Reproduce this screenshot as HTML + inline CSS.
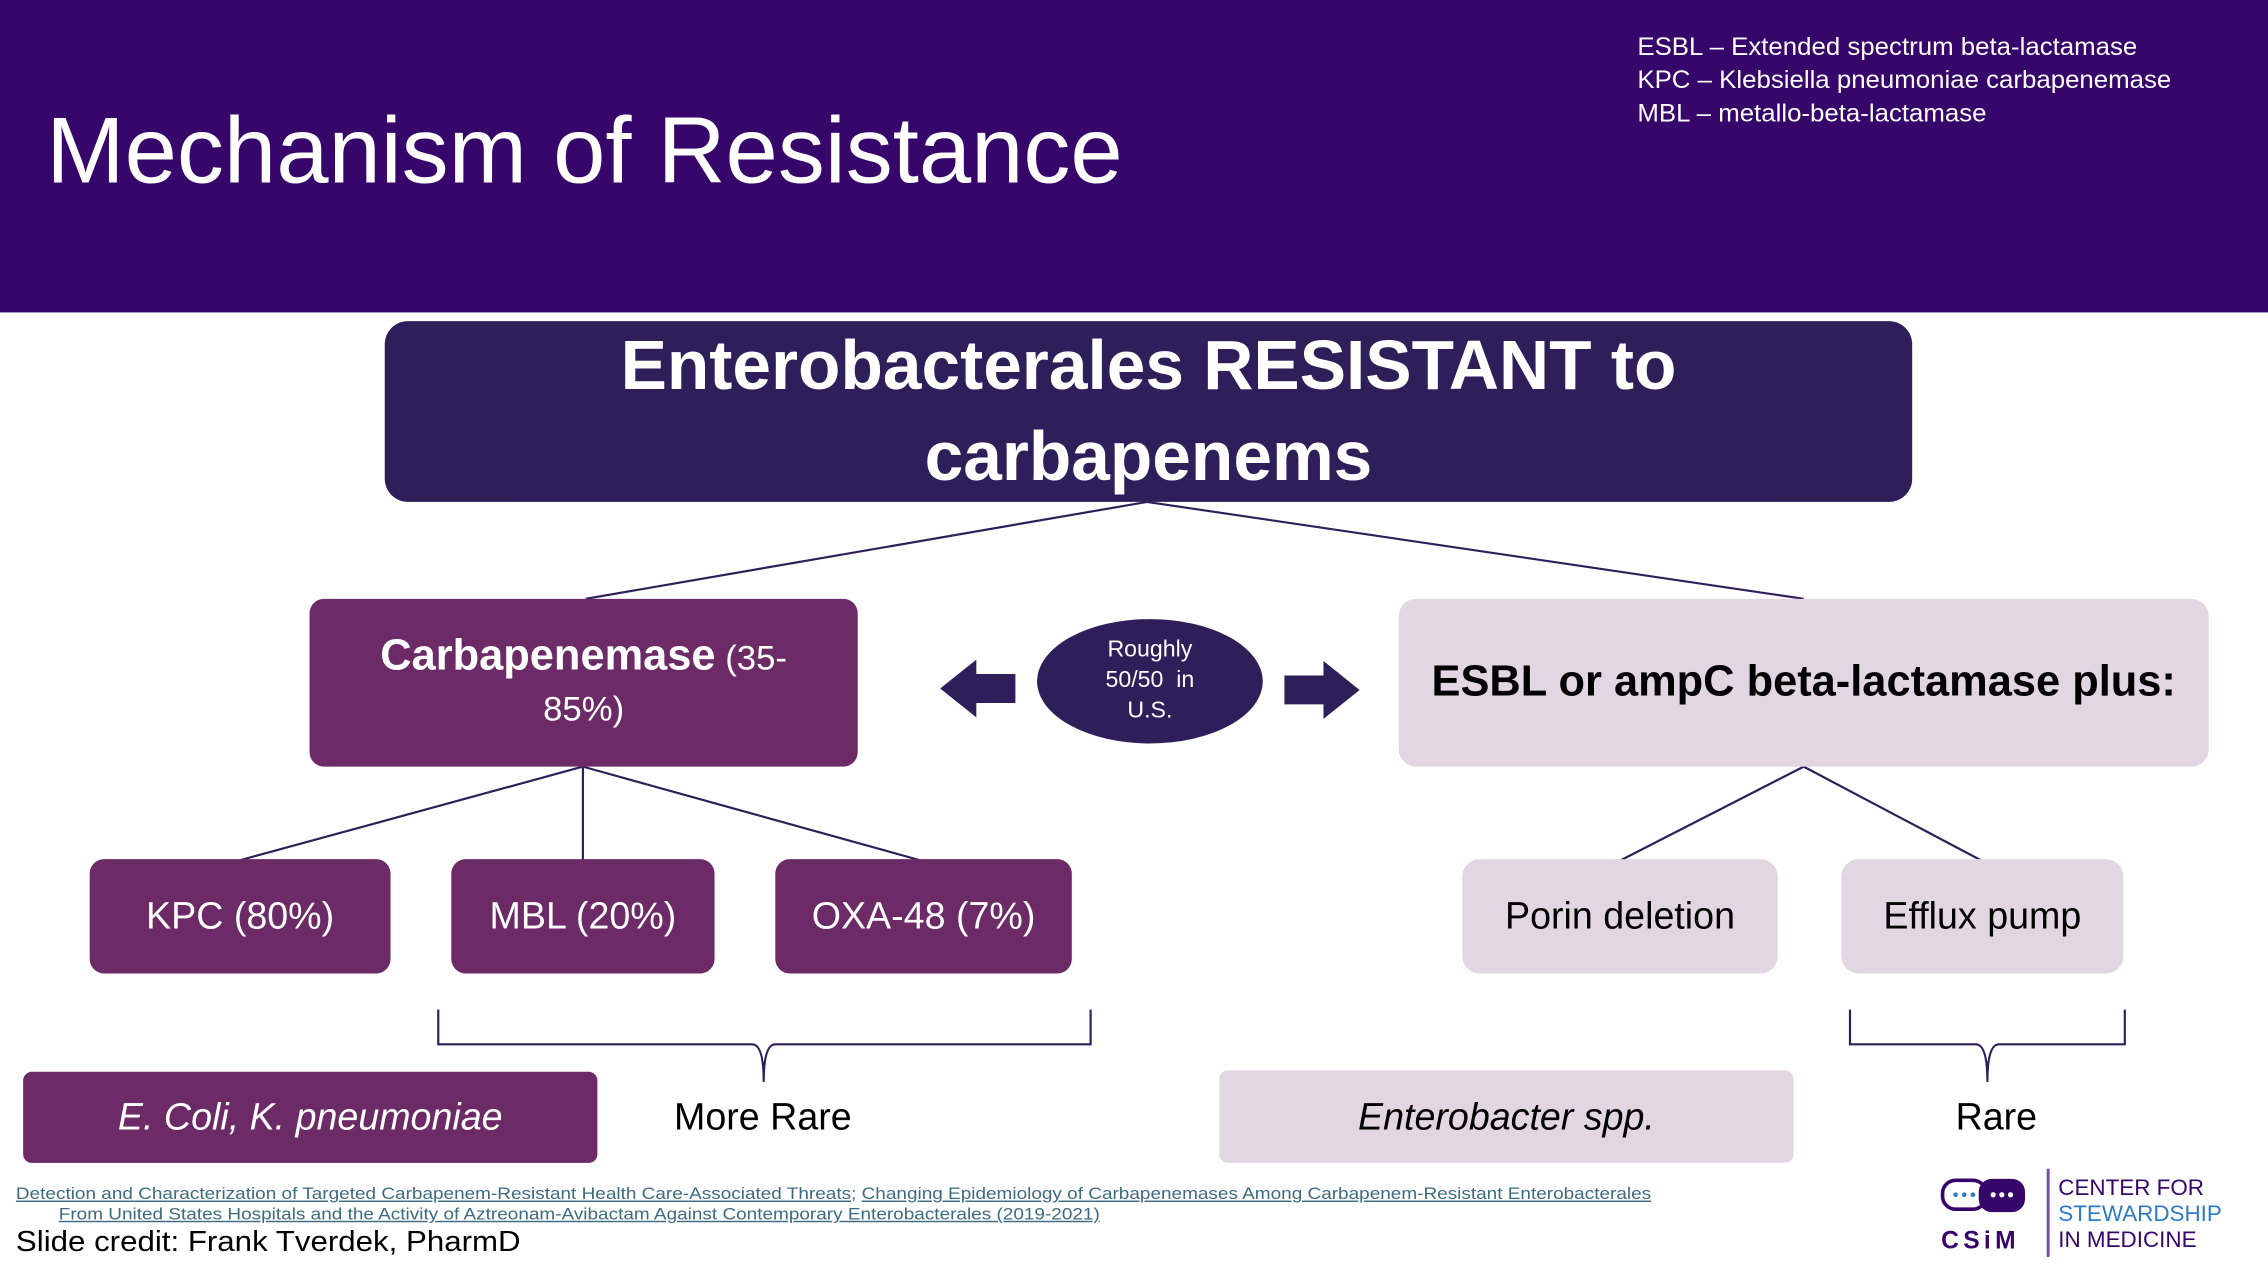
<!DOCTYPE html>
<html><head><meta charset="utf-8"><style>
html,body{margin:0;padding:0;background:#fff;overflow:hidden;width:2268px;height:1270px}
#s{position:absolute;left:0;top:0;width:1568px;height:878px;transform:scale(1.44643);transform-origin:0 0;font-family:"Liberation Sans",sans-serif}
.b{position:absolute;display:flex;align-items:center;justify-content:center;text-align:center;box-sizing:border-box}
.d{background:#6c2a67;color:#fff;border-radius:10px}
.l{background:#e3d6e3;color:#000;border-radius:12px}
.t{position:absolute;white-space:nowrap}
</style></head><body><div id="s">
<div style="position:absolute;left:0;top:0;width:1568px;height:216px;background:#36066a"></div>
<div class="t" style="left:32px;top:66px;font-size:65px;color:#fff">Mechanism of Resistance</div>
<div class="t" style="left:1132px;top:21px;font-size:17px;color:#fff;line-height:23px;transform:scaleX(1.05);transform-origin:0 0">ESBL – Extended spectrum beta-lactamase<br>KPC – Klebsiella pneumoniae carbapenemase<br>MBL – metallo-beta-lactamase</div>
<svg style="position:absolute;left:0;top:0" width="1568" height="878">
<g stroke="#2e1f5a" stroke-width="1.5" fill="none">
<path d="M793 347 L405 414 M793 347 L1247 414"/>
<path d="M403 530 L165 595 M403 530 L403 595 M403 530 L637 595"/>
<path d="M1247 530 L1120 595 M1247 530 L1370 595"/>
<path d="M303 698 V722 H520 Q528 722 528 748 Q528 722 536 722 H754 V698"/>
<path d="M1279 698 V722 H1366 Q1374 722 1374 748 Q1374 722 1382 722 H1469 V698"/>
</g>
<path d="M650 476 L675 456 V466 H702 V486 H675 V496 Z" fill="#2e1f5a"/>
<path d="M940 477 L915 457 V467 H888 V487 H915 V497 Z" fill="#2e1f5a"/>
<ellipse cx="795" cy="471" rx="78" ry="43" fill="#2e1f5a"/>
</svg>
<div class="b" style="left:266px;top:222px;width:1056px;height:125px;background:#2e1f5a;border-radius:16px;color:#fff;font-weight:bold;font-size:48px;line-height:63px">Enterobacterales RESISTANT to<br>carbapenems</div>
<div class="b d" style="left:214px;top:414px;width:379px;height:116px;font-size:24px;line-height:35px"><div><b style="font-size:30px">Carbapenemase</b> (35-<br>85%)</div></div>
<div class="t" style="left:717px;top:439px;width:156px;text-align:center;color:#fff;font-size:16px;line-height:21px">Roughly<br>50/50 &nbsp;in<br>U.S.</div>
<div class="b l" style="left:967px;top:414px;width:560px;height:116px;font-size:30px;font-weight:bold">ESBL or ampC beta-lactamase plus:</div>
<div class="b d" style="left:62px;top:594px;width:208px;height:79px;font-size:26px">KPC (80%)</div>
<div class="b d" style="left:312px;top:594px;width:182px;height:79px;font-size:26px">MBL (20%)</div>
<div class="b d" style="left:536px;top:594px;width:205px;height:79px;font-size:26px">OXA-48 (7%)</div>
<div class="b l" style="left:1011px;top:594px;width:218px;height:79px;font-size:26px">Porin deletion</div>
<div class="b l" style="left:1273px;top:594px;width:195px;height:79px;font-size:26px">Efflux pump</div>
<div class="b d" style="left:16px;top:741px;width:397px;height:63px;font-size:26px;font-style:italic;border-radius:6px">E. Coli, K. pneumoniae</div>
<div class="t" style="left:466px;top:757px;font-size:26px">More Rare</div>
<div class="b l" style="left:843px;top:740px;width:397px;height:64px;font-size:26px;font-style:italic;border-radius:6px">Enterobacter spp.</div>
<div class="t" style="left:1352px;top:757px;font-size:26px">Rare</div>
<div class="t" style="left:11px;top:819px;font-size:11.5px;color:#3d6b7f;line-height:14px;transform:scaleX(1.14);transform-origin:0 0"><u>Detection and Characterization of Targeted Carbapenem-Resistant Health Care-Associated Threats</u>; <u>Changing Epidemiology of Carbapenemases Among Carbapenem-Resistant Enterobacterales</u><br><span style="padding-left:26px"><u>From United States Hospitals and the Activity of Aztreonam-Avibactam Against Contemporary Enterobacterales (2019-2021)</u></span></div>
<div class="t" style="left:11px;top:848px;font-size:20px;transform:scaleX(1.08);transform-origin:0 0">Slide credit: Frank Tverdek, PharmD</div>
<svg style="position:absolute;left:1340px;top:812px" width="64" height="54">
<rect x="3" y="4" width="30" height="20" rx="9" fill="none" stroke="#36066a" stroke-width="2.5"/>
<rect x="28" y="3" width="32" height="23" rx="9" fill="#36066a"/>
<circle cx="12" cy="14" r="1.6" fill="#2f7ac8"/><circle cx="18" cy="14" r="1.6" fill="#2f7ac8"/><circle cx="24" cy="14" r="1.6" fill="#2f7ac8"/>
<circle cx="38" cy="14" r="1.8" fill="#fff"/><circle cx="44" cy="14" r="1.8" fill="#fff"/><circle cx="50" cy="14" r="1.8" fill="#fff"/>
<text x="2" y="51" font-family="Liberation Sans" font-weight="bold" font-size="17" fill="#36066a" letter-spacing="3">CSiM</text>
</svg>
<div style="position:absolute;left:1415px;top:808px;width:2px;height:61px;background:#7a4ea0"></div>
<div class="t" style="left:1423px;top:813px;font-size:15.5px;line-height:18px;color:#36066a">CENTER FOR<br><span style="color:#2f7ac8">STEWARDSHIP</span><br>IN MEDICINE</div>
</div></body></html>
